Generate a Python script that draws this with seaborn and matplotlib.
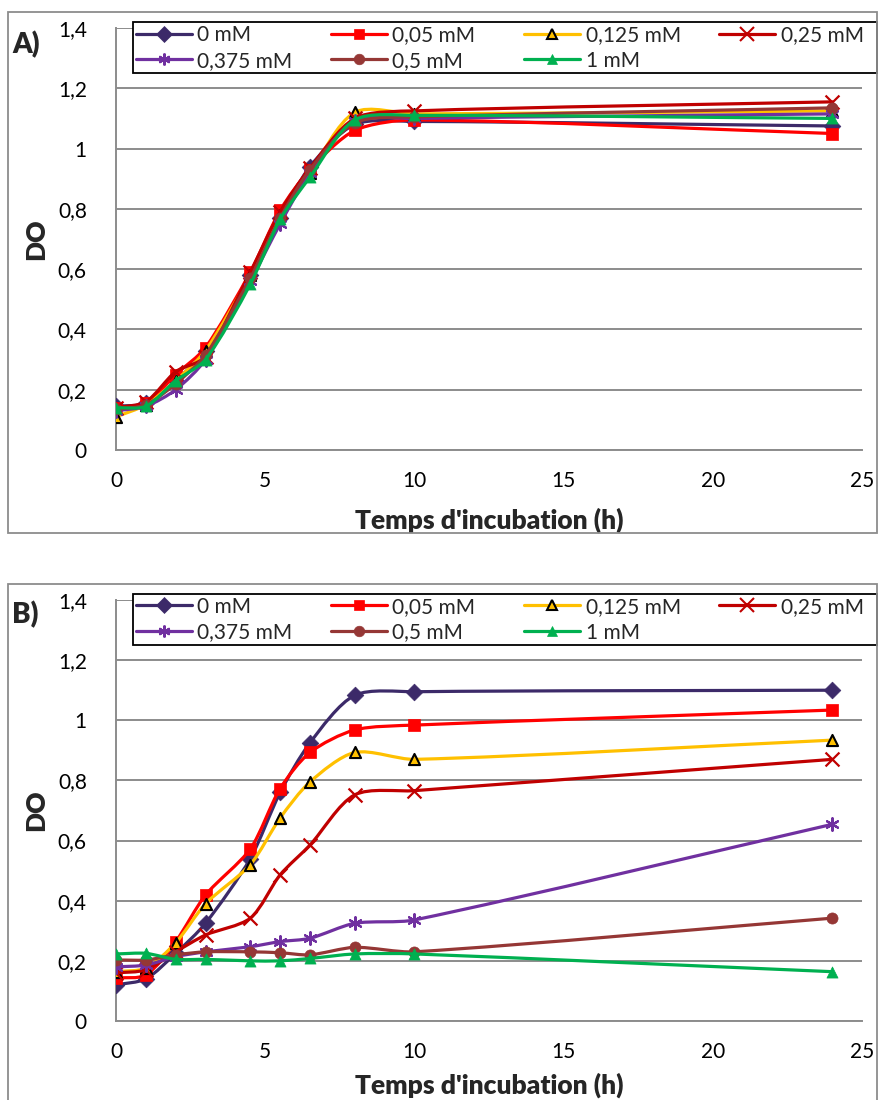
import numpy as np
import matplotlib
matplotlib.use("Agg")
import matplotlib.pyplot as plt
import seaborn as sns
from matplotlib.path import Path
from matplotlib.patches import PathPatch, Rectangle
from matplotlib.lines import Line2D
from matplotlib.ticker import FuncFormatter

sns.set_theme(style="white")
plt.rcParams['font.family'] = ['Lato', 'DejaVu Sans']

# ---------------- data ----------------
hours = [0, 1, 2, 3, 4.5, 5.5, 6.5, 8, 10, 24]
labels = ["0 mM", "0,05 mM", "0,125 mM", "0,25 mM", "0,375 mM", "0,5 mM", "1 mM"]

a_0    = [0.145, 0.155, 0.23, 0.33, 0.58, 0.77, 0.94, 1.08, 1.09, 1.075]
a_005  = [0.14, 0.155, 0.25, 0.34, 0.59, 0.795, 0.93, 1.06, 1.095, 1.05]
a_0125 = [0.11, 0.15, 0.23, 0.33, 0.58, 0.78, 0.92, 1.12, 1.115, 1.125]
a_025  = [0.14, 0.16, 0.26, 0.31, 0.59, 0.79, 0.935, 1.10, 1.125, 1.155]
a_0375 = [0.13, 0.145, 0.20, 0.30, 0.56, 0.75, 0.92, 1.09, 1.10, 1.115]
a_05   = [0.135, 0.15, 0.22, 0.315, 0.57, 0.77, 0.93, 1.085, 1.105, 1.135]
a_1    = [0.14, 0.145, 0.23, 0.30, 0.55, 0.765, 0.905, 1.095, 1.11, 1.10]

b_0    = [0.12, 0.14, 0.225, 0.325, 0.54, 0.76, 0.925, 1.083, 1.095, 1.10]
b_005  = [0.143, 0.153, 0.264, 0.419, 0.572, 0.773, 0.893, 0.968, 0.984, 1.034]
b_0125 = [0.164, 0.176, 0.26, 0.39, 0.52, 0.675, 0.795, 0.893, 0.87, 0.934]
b_025  = [0.16, 0.17, 0.23, 0.286, 0.342, 0.486, 0.585, 0.752, 0.766, 0.87]
b_0375 = [0.18, 0.186, 0.214, 0.23, 0.247, 0.264, 0.275, 0.325, 0.336, 0.654]
b_05   = [0.203, 0.203, 0.22, 0.23, 0.23, 0.227, 0.22, 0.245, 0.23, 0.342]
b_1    = [0.223, 0.225, 0.205, 0.205, 0.2, 0.2, 0.208, 0.223, 0.223, 0.164]

panel_a = [a_0, a_005, a_0125, a_025, a_0375, a_05, a_1]
panel_b = [b_0, b_005, b_0125, b_025, b_0375, b_05, b_1]

xticks = [0, 5, 10, 15, 20, 25]
yticks = [0, 0.2, 0.4, 0.6, 0.8, 1.0, 1.2, 1.4]

# ---------------- styles ----------------
colors = ['#3C2A69', '#FF0000', '#FFC000', '#C00000', '#7030A0', '#953735', '#00B050']
markers = ['D', 's', '^', 'x', (6, 2, 0), 'o', '^']
msizes = [8.5, 8, 8, 10, 9, 8, 8]
medge = [None, None, 'black', None, None, None, None]

GRAY = '#8C8C8C'
FIG_W, FIG_H = 879, 1100


def smooth_path(x, y, sx, sy, k=0.27):
    """Excel-like smoothed curve as cubic Bezier path through the data points."""
    P = np.column_stack([np.asarray(x, float) * sx, np.asarray(y, float) * sy])
    n = len(P)
    tang = []
    for i in range(n):
        if i == 0:
            d = P[1] - P[0]
        elif i == n - 1:
            d = P[-1] - P[-2]
        else:
            d = P[i + 1] - P[i - 1]
        nrm = np.hypot(*d)
        tang.append(d / nrm if nrm > 0 else d)
    verts = [P[0]]
    codes = [Path.MOVETO]
    for i in range(n - 1):
        L = np.hypot(*(P[i + 1] - P[i]))
        c1 = P[i] + tang[i] * L * k
        c2 = P[i + 1] - tang[i + 1] * L * k
        verts += [c1, c2, P[i + 1]]
        codes += [Path.CURVE4] * 3
    V = np.array(verts)
    V[:, 0] /= sx
    V[:, 1] /= sy
    return Path(V, codes)


fig = plt.figure(figsize=(FIG_W / 100, FIG_H / 100), dpi=100)

# panel frames (figure pixel coordinates -> fraction)
for (top, bot) in [(12, 533), (584, 1110)]:
    fig.patches.append(Rectangle((8 / FIG_W, 1 - bot / FIG_H), (877 - 8) / FIG_W,
                                 (bot - top) / FIG_H, transform=fig.transFigure,
                                 fill=False, edgecolor=GRAY, linewidth=1.3,
                                 clip_on=False))


def make_axes(top_px, bot_px):
    left, right = 116, 862
    return fig.add_axes([left / FIG_W, 1 - bot_px / FIG_H,
                         (right - left) / FIG_W, (bot_px - top_px) / FIG_H])


fmt = FuncFormatter(lambda v, p: ('%g' % round(v, 1)).replace('.', ','))


def draw_panel(ax, data, tag, tag_y_px, xlabelpad):
    sx = 746 / 25.0
    sy = 421 / 1.4
    for i, ys in enumerate(data):
        path = smooth_path(hours, ys, sx, sy)
        ax.add_patch(PathPatch(path, facecolor='none', edgecolor=colors[i],
                               linewidth=2.3, capstyle='round', joinstyle='round',
                               zorder=3 + i * 0.1))
        m = markers[i]
        kw = dict(x=hours, y=ys, ax=ax, marker=m, s=msizes[i] ** 2, zorder=3.05 + i * 0.1,
                  legend=False)
        if m in ('x', (6, 2, 0)):
            kw.update(color=colors[i], linewidth=1.6)
        elif medge[i]:
            kw.update(color=colors[i], edgecolor=medge[i], linewidth=1.5)
        else:
            kw.update(color=colors[i], edgecolor=colors[i], linewidth=0.5)
        sns.scatterplot(**kw)

    ax.set_xlim(0, 25)
    ax.set_ylim(0, 1.4)
    ax.set_xticks(xticks)
    ax.set_yticks(yticks)
    ax.yaxis.set_major_formatter(fmt)
    ax.grid(axis='y', color=GRAY, linewidth=1.4)
    ax.grid(axis='x', visible=False)
    ax.set_axisbelow(True)
    for s in ['top', 'right']:
        ax.spines[s].set_visible(False)
    for s in ['left', 'bottom']:
        ax.spines[s].set_color(GRAY)
        ax.spines[s].set_linewidth(1.4)
    ax.tick_params(axis='both', which='major', direction='out', length=5, width=1.2,
                   color=GRAY, labelsize=15, labelcolor='black')
    ax.tick_params(axis='y', pad=16)
    ax.tick_params(axis='x', pad=10)
    ax.set_xlabel("Temps d'incubation (h)", fontsize=19, fontweight='heavy',
                  labelpad=xlabelpad)
    ax.set_ylabel("DO", fontsize=19, fontweight='heavy', labelpad=7)
    fig.text(12 / FIG_W, 1 - tag_y_px / FIG_H, tag, fontsize=20, fontweight='heavy',
             ha='left', va='center')

    handles = []
    for i in range(len(labels)):
        m = markers[i]
        h = Line2D([0], [0], color=colors[i], linewidth=2.3, marker=m,
                   markersize=msizes[i] * (0.95 if m != 'x' else 1.0),
                   markerfacecolor=colors[i],
                   markeredgecolor=medge[i] if medge[i] else colors[i],
                   markeredgewidth=1.5 if m in ('x', (6, 2, 0)) or medge[i] else 0.5)
        handles.append(h)
    order = [0, 4, 1, 5, 2, 6, 3]
    # trailing spaces keep the four legend columns at an even width, like Excel
    shown = [labels[j] + ('  ' if j in (1, 3, 5) else '') for j in order]
    leg = ax.legend([handles[j] for j in order], shown,
                    ncol=4, loc='lower left',
                    bbox_to_anchor=(0.023, 0.893, 0.997, 0.121), mode='expand',
                    fontsize=15, frameon=True, fancybox=False, edgecolor='black',
                    framealpha=1, handlelength=2.7, handletextpad=0.25,
                    borderpad=0.12, labelspacing=0.28, borderaxespad=0,
                    columnspacing=1.0)
    leg.get_frame().set_linewidth(1.3)
    leg.set_zorder(10)


axA = make_axes(28, 450)
draw_panel(axA, panel_a, 'A)', 45, 12)
axB = make_axes(600, 1021)
draw_panel(axB, panel_b, 'B)', 615, 8)

fig.savefig("out.png", dpi=100)
